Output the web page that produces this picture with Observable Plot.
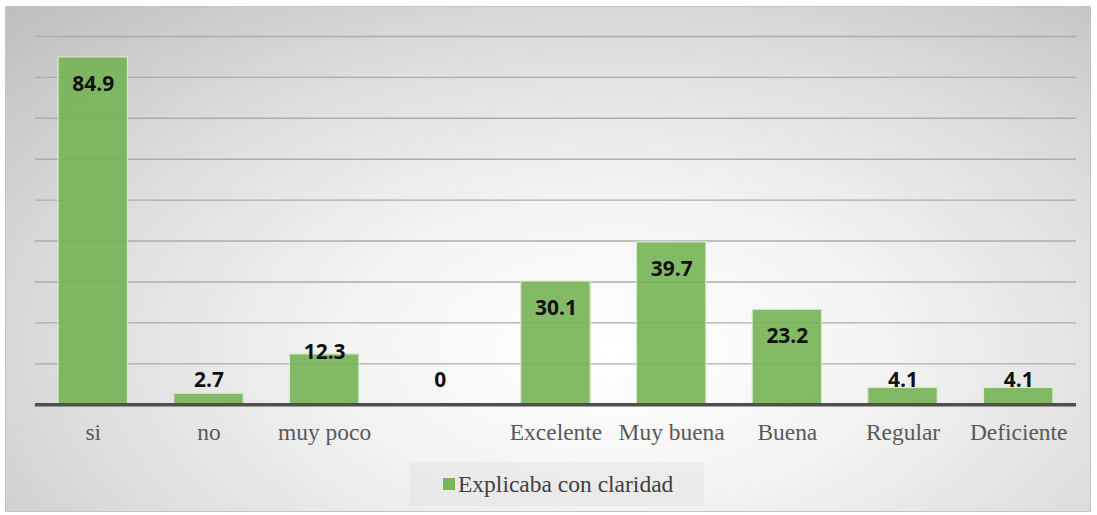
<!DOCTYPE html>
<html>
<head>
<meta charset="utf-8">
<script src="https://cdn.jsdelivr.net/npm/d3@7"></script>
<script src="https://cdn.jsdelivr.net/npm/@observablehq/plot@0.6"></script>
<style>
  html, body { margin: 0; padding: 0; background: #ffffff; }
  #frame {
    position: absolute; left: 5px; top: 6px; width: 1086px; height: 506px;
    border: 1px solid #c4c4c4; box-sizing: border-box;
    background: radial-gradient(ellipse farthest-corner at 56% 68%, #ffffff 0%, #f4f4f4 30%, #dcdcdc 65%, #bdbdbd 100%);
    overflow: hidden;
  }
  #chart { position: absolute; left: 0; top: 0; }
  #legend {
    position: absolute; left: 404px; top: 455px; width: 294px; height: 44px;
    background: rgba(225,225,225,0.45);
    font-family: "Liberation Serif", "Times New Roman", serif; font-size: 23.5px; color: #404040;
    display: flex; align-items: center;
  }
  #legend .sw { width: 12px; height: 12px; background: #7ab55a; margin-left: 33px; margin-right: 3px; }
</style>
</head>
<body>
<div id="frame">
  <div id="chart"></div>
  <div id="legend"><span class="sw"></span><span id="legtext"></span></div>
</div>
<script>
const categories = ["si", "no", "muy poco", "", "Excelente", "Muy buena", "Buena", "Regular", "Deficiente"];
const values = [84.9, 2.7, 12.3, 0, 30.1, 39.7, 23.2, 4.1, 4.1];
const seriesName = "Explicaba con claridad";
const yTicks = [0, 10, 20, 30, 40, 50, 60, 70, 80, 90];

const data = categories.map((c, i) => ({cat: c, value: values[i]}));
const green = "#76b354";
const labelFont = {fontSize: 21, fontWeight: "bold", fontFamily: "Open Sans, sans-serif", fill: "#111"};

const plot = Plot.plot({
  width: 1086,
  height: 455,
  marginLeft: 29,
  marginRight: 14,
  marginTop: 29,
  marginBottom: 57,
  style: {background: "transparent", overflow: "visible"},
  x: {domain: categories, paddingInner: 0.4, paddingOuter: 0.2, round: false, label: null},
  y: {domain: [0, 90], label: null, axis: null},
  marks: [
    Plot.ruleY(yTicks.filter(t => t > 0), {stroke: "#adadad", strokeWidth: 1.4}),
    Plot.barY(data, {x: "cat", y: "value", fill: green, fillOpacity: 0.9, stroke: "#d8ebcc", strokeWidth: 1.2}),
    Plot.ruleY([0], {stroke: "#4f4f4f", strokeWidth: 3.5}),
    Plot.axisX({tickSize: 0, tickPadding: 19, fontSize: 23.5, fontFamily: "Liberation Serif, Times New Roman, serif", fill: "#595959", label: null}),
    Plot.text(data.filter(d => d.value > 20), {
      x: "cat", y: "value", dy: 27, text: d => String(d.value), ...labelFont
    }),
    Plot.text(data.filter(d => d.value <= 20 && d.value > 6), {
      x: "cat", y: "value", dy: -2, text: d => String(d.value), ...labelFont
    }),
    Plot.text(data.filter(d => d.value <= 6), {
      x: "cat", y: d => Math.max(d.value, 6), text: d => String(d.value), ...labelFont
    })
  ]
});
document.getElementById("chart").appendChild(plot);
document.getElementById("legtext").textContent = seriesName;
</script>
</body>
</html>
